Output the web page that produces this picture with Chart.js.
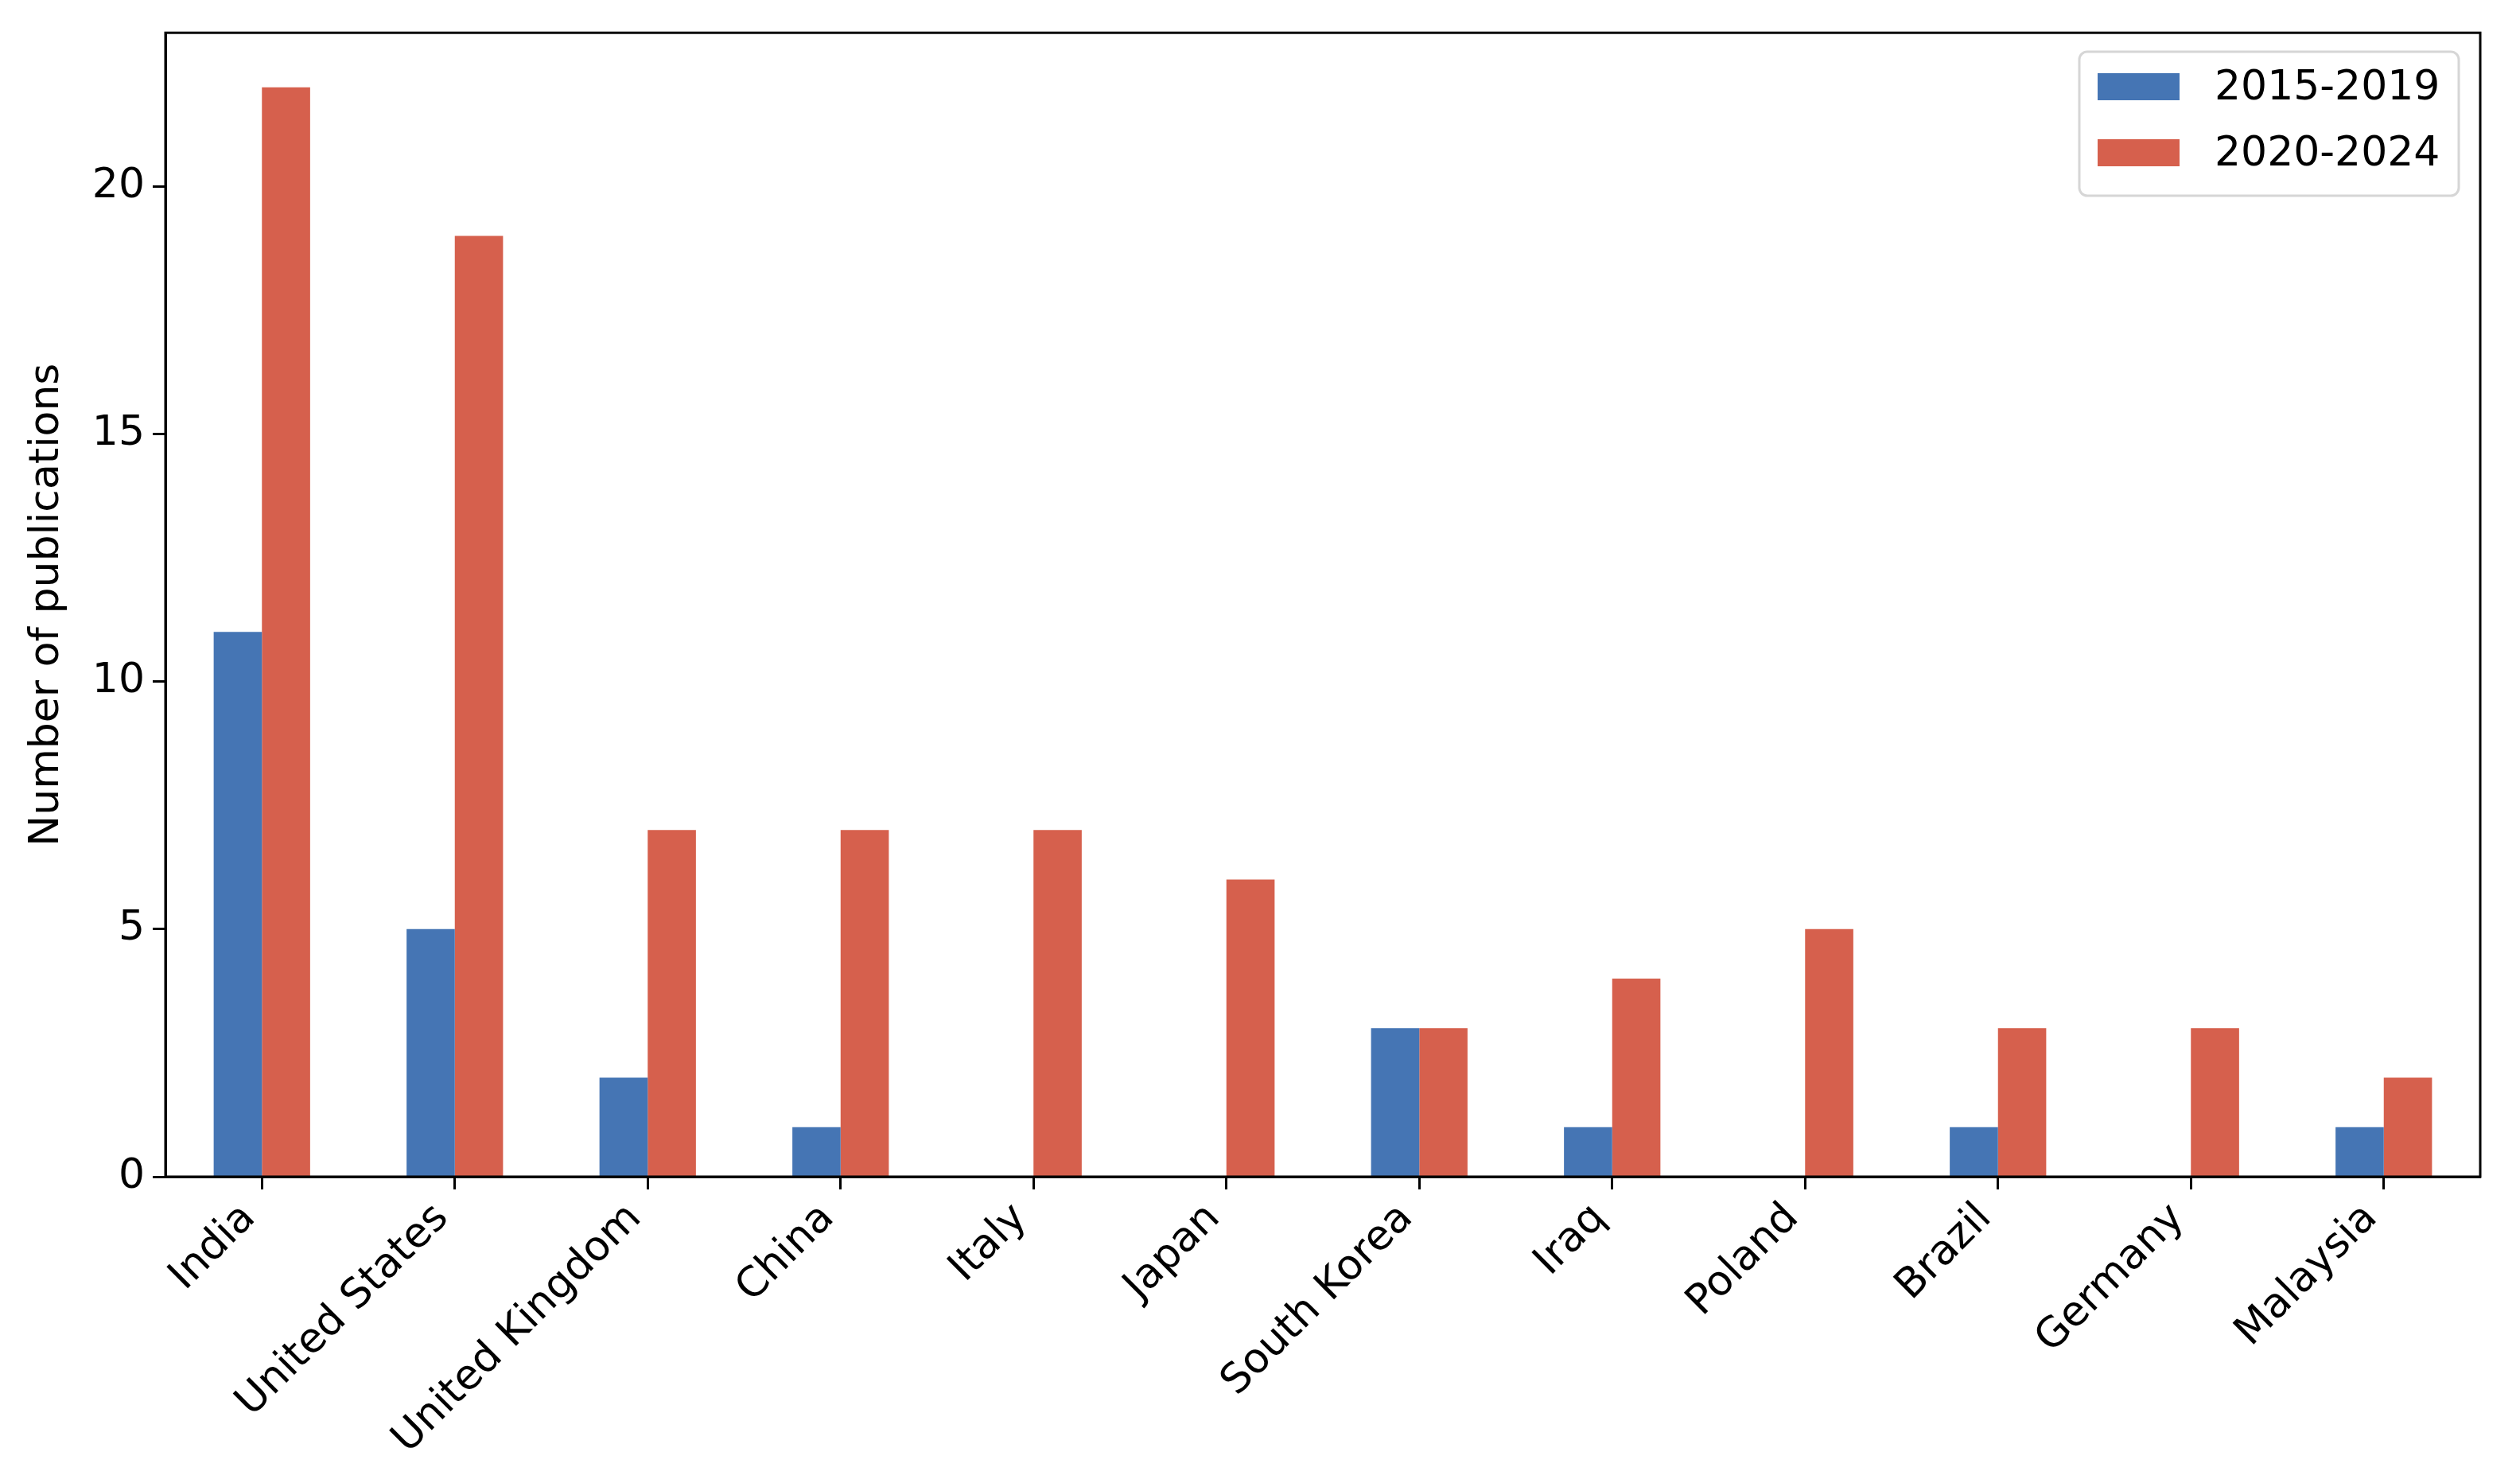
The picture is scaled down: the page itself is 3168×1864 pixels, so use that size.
<!DOCTYPE html>
<html lang="en">
<head>
    <meta charset="UTF-8">
    <title>Publications by country</title>
    <script src="https://cdn.jsdelivr.net/npm/chart.js"></script>
    <style>
        body { margin: 0; background: #fff; }
        canvas { display: block; }
    </style>
</head>
<body>
<canvas id="pubChart" width="3168" height="1864"></canvas>

<script>
    const countries = ["India", "United States", "United Kingdom", "China", "Italy", "Japan",
        "South Korea", "Iraq", "Poland", "Brazil", "Germany", "Malaysia"];
    const early = [11, 5, 2, 1, 0, 0, 3, 1, 0, 1, 0, 1];   // 2015-2019
    const late = [22, 19, 7, 7, 7, 6, 3, 4, 5, 3, 3, 2];   // 2020-2024
    const seriesNames = ["2015-2019", "2020-2024"];
    const yTicks = [0, 5, 10, 15, 20];

    const FONT = "'DejaVu Sans', sans-serif";
    const FS = 52;

    // frame around the plot area (matplotlib spines)
    const framePlugin = {
        id: "frame",
        afterDraw(chart) {
            const { ctx, chartArea: a } = chart;
            ctx.save();
            ctx.strokeStyle = "#000";
            ctx.lineWidth = 3;
            ctx.strokeRect(a.left, a.top, a.right - a.left, a.bottom - a.top);
            ctx.restore();
        }
    };

    // legend box in the upper right, inside the axes
    const legendPlugin = {
        id: "boxLegend",
        afterDraw(chart) {
            const { ctx } = chart;
            const x = 2614, y = 65, w = 477, h = 181, r = 10;
            ctx.save();
            ctx.fillStyle = "rgba(255,255,255,0.8)";
            ctx.strokeStyle = "#d6d6d6";
            ctx.lineWidth = 3;
            ctx.beginPath();
            ctx.roundRect(x, y, w, h, r);
            ctx.fill();
            ctx.stroke();
            ctx.font = FS + "px " + FONT;
            ctx.textBaseline = "middle";
            chart.data.datasets.forEach((ds, i) => {
                const cy = 109 + i * 83;
                ctx.fillStyle = ds.backgroundColor;
                ctx.fillRect(2637, cy - 17, 103, 34);
                ctx.fillStyle = "#000";
                ctx.fillText(ds.label, 2784, cy + 2);
            });
            ctx.restore();
        }
    };

    new Chart(document.getElementById("pubChart"), {
        type: "bar",
        data: {
            labels: countries,
            datasets: [
                { label: seriesNames[0], data: early, backgroundColor: "#4575b4" },
                { label: seriesNames[1], data: late, backgroundColor: "#d6604d" }
            ]
        },
        options: {
            responsive: false,
            animation: false,
            layout: { padding: { top: 36, right: 50, left: 0, bottom: 0 } },
            datasets: {
                bar: { categoryPercentage: 0.5, barPercentage: 1.0, borderWidth: 0 }
            },
            plugins: {
                legend: { display: false },
                tooltip: { enabled: false }
            },
            scales: {
                x: {
                    offset: true,
                    grid: { display: true, offset: false, drawOnChartArea: false, drawTicks: true, tickLength: 16, tickWidth: 3, tickColor: "#000" },
                    border: { display: true, color: "#000", width: 3 },
                    ticks: {
                        color: "#000",
                        font: { family: FONT, size: FS },
                        minRotation: 45,
                        maxRotation: 45,
                        autoSkip: false,
                        padding: 6,
                        labelOffset: -16
                    },
                    afterFit(scale) { scale.height = 1864 - 1479; }
                },
                y: {
                    min: 0,
                    max: 23.1,
                    grid: { display: true, drawOnChartArea: false, drawTicks: true, tickLength: 16, tickWidth: 3, tickColor: "#000" },
                    border: { display: true, color: "#000", width: 3 },
                    ticks: {
                        color: "#000",
                        font: { family: FONT, size: FS },
                        stepSize: 5,
                        padding: 10
                    },
                    afterBuildTicks(scale) {
                        scale.ticks = yTicks.map(v => ({ value: v }));
                    },
                    title: {
                        display: true,
                        text: "Number of publications",
                        color: "#000",
                        font: { family: FONT, size: FS },
                        padding: { top: 28, bottom: 0 }
                    },
                    afterFit(scale) { scale.width = 208; }
                }
            }
        },
        plugins: [framePlugin, legendPlugin]
    });
</script>
</body>
</html>
